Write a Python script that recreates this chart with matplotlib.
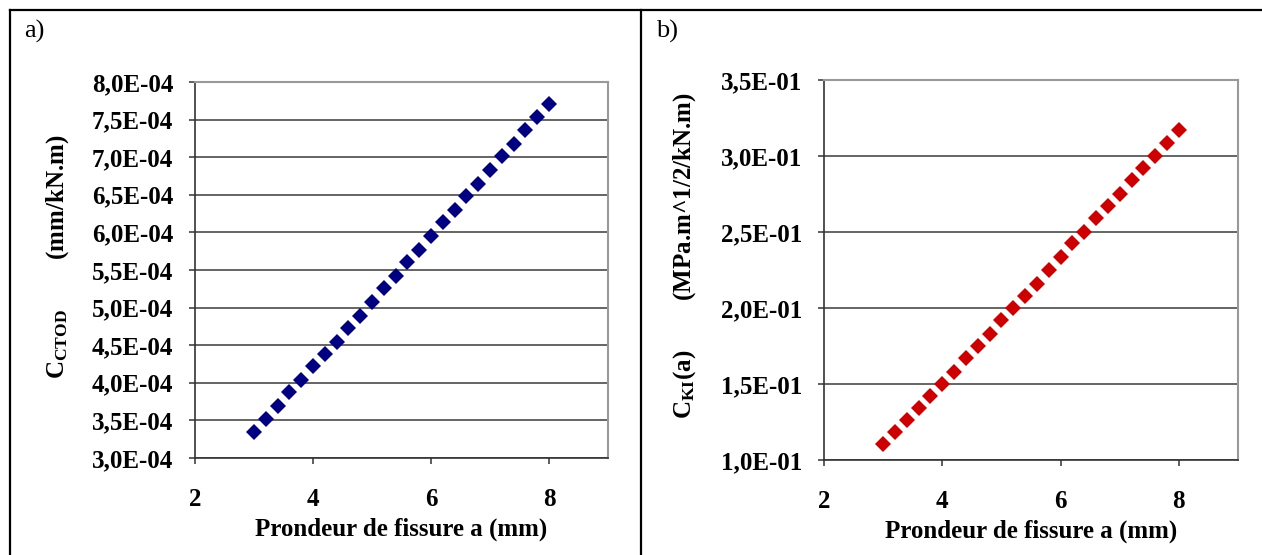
import matplotlib
matplotlib.use("Agg")
from matplotlib import pyplot as plt
from matplotlib.lines import Line2D
from matplotlib.ticker import FuncFormatter, MultipleLocator

# profondeur de fissure a (mm)
a_mm = [3.0, 3.2, 3.4, 3.6, 3.8, 4.0, 4.2, 4.4, 4.6, 4.8, 5.0, 5.2, 5.4,
        5.6, 5.8, 6.0, 6.2, 6.4, 6.6, 6.8, 7.0, 7.2, 7.4, 7.6, 7.8, 8.0]

# a) C_CTOD (mm/kN.m)
c_ctod = [3.347e-4, 3.524e-4, 3.689e-4, 3.871e-4, 4.035e-4, 4.222e-4,
          4.382e-4, 4.546e-4, 4.724e-4, 4.888e-4, 5.070e-4, 5.257e-4,
          5.421e-4, 5.608e-4, 5.768e-4, 5.954e-4, 6.132e-4, 6.301e-4,
          6.478e-4, 6.647e-4, 6.834e-4, 7.020e-4, 7.180e-4, 7.367e-4,
          7.531e-4, 7.713e-4]

# b) C_KI(a) (MPa.m^1/2/kN.m)
c_ki = [0.1105, 0.1186, 0.1263, 0.1342, 0.1421, 0.1500, 0.1581, 0.1671,
        0.1750, 0.1829, 0.1921, 0.1998, 0.2079, 0.2158, 0.2250, 0.2333,
        0.2425, 0.2498, 0.2594, 0.2671, 0.2750, 0.2842, 0.2919, 0.3000,
        0.3083, 0.3171]

plt.rcParams["font.family"] = ["Liberation Serif", "DejaVu Serif"]
plt.rcParams["font.weight"] = "bold"
plt.rcParams["mathtext.fontset"] = "custom"
plt.rcParams["mathtext.rm"] = "Liberation Serif:bold"
plt.rcParams["mathtext.it"] = "Liberation Serif:bold"
plt.rcParams["mathtext.bf"] = "Liberation Serif:bold"

fig = plt.figure(figsize=(12.62, 5.55), dpi=100)


def sci_comma(v, pos):
    return f"{v:.1E}".replace(".", ",")


def style_axes(ax, ylim, ystep):
    ax.set_xlim(2, 9)
    ax.set_ylim(*ylim)
    ax.xaxis.set_major_locator(MultipleLocator(2))
    ax.yaxis.set_major_locator(MultipleLocator(ystep))
    ax.yaxis.set_major_formatter(FuncFormatter(sci_comma))
    ax.grid(axis="y", color="#3a3a3a", linewidth=1.1)
    ax.set_axisbelow(True)
    for side in ("top", "right"):
        ax.spines[side].set_color("#999999")
        ax.spines[side].set_linewidth(1.5)
    for side in ("left", "bottom"):
        ax.spines[side].set_color("#333333")
        ax.spines[side].set_linewidth(1.2)
    ax.tick_params(direction="out", length=4.5, width=1.1, color="#333333",
                   labelsize=18)
    ax.tick_params(axis="y", pad=11)
    ax.tick_params(axis="x", pad=17)
    for lab in ax.get_xticklabels() + ax.get_yticklabels():
        lab.set_fontweight("bold")
    ax.set_xlabel("Prondeur de fissure a (mm)", fontsize=18, fontweight="bold",
                  labelpad=5)


ax1 = fig.add_axes([0.1545, 0.1748, 0.3273, 0.6775])
ax1.plot(a_mm, c_ctod, linestyle="none", marker="D", markersize=8,
         markeredgewidth=0, color="#000080")
style_axes(ax1, (3.0e-4, 8.0e-4), 0.5e-4)
ax1.set_ylabel(r"C$_{\mathrm{CTOD}}$        (mm/kN.m)", fontsize=18,
               fontweight="bold")
ax1.yaxis.set_label_coords(-0.30, 0.535)

ax2 = fig.add_axes([0.6529, 0.1712, 0.3281, 0.6847])
ax2.plot(a_mm, c_ki, linestyle="none", marker="D", markersize=8,
         markeredgewidth=0, color="#cc0000")
style_axes(ax2, (0.10, 0.35), 0.05)
ax2.set_ylabel(r"C$_{\mathrm{KI}}$(a)        (MPa.m^1/2/kN.m)", fontsize=18,
               fontweight="bold")
ax2.yaxis.set_label_coords(-0.304, 0.539)

# cadre du tableau
fig.add_artist(Line2D([10 / 1262, 1], [1 - 10 / 555, 1 - 10 / 555],
                      color="black", linewidth=1.6))
fig.add_artist(Line2D([10 / 1262, 10 / 1262], [0, 1 - 10 / 555],
                      color="black", linewidth=1.6))
fig.add_artist(Line2D([641 / 1262, 641 / 1262], [0, 1 - 10 / 555],
                      color="black", linewidth=1.6))

fig.text(24 / 1262, 1 - 31 / 555, "a)", fontsize=19, fontweight="normal",
         va="center", ha="left")
fig.text(656 / 1262, 1 - 31 / 555, "b)", fontsize=19, fontweight="normal",
         va="center", ha="left")

fig.savefig("out.png", dpi=100)
